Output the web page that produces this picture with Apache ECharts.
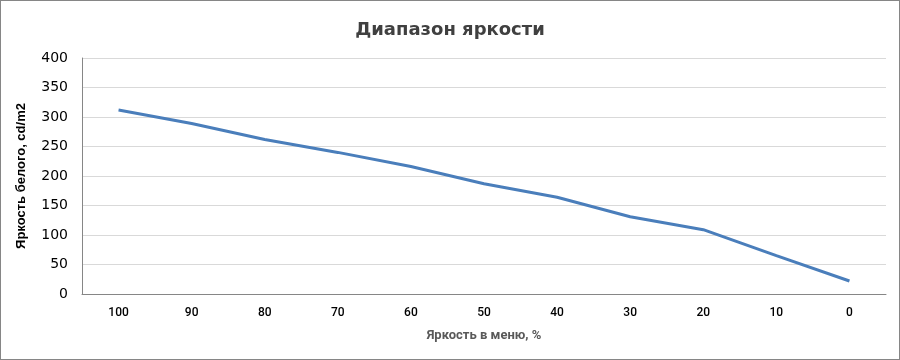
<!DOCTYPE html>
<html><head><meta charset="utf-8">
<script src="https://cdn.jsdelivr.net/npm/echarts@6/dist/echarts.min.js"></script>
<style>html,body{margin:0;padding:0;background:#fff}#c{width:898px;height:358px;border:1px solid #868686}</style>
</head><body><div id="c"></div>
<script>
const categories = ['100','90','80','70','60','50','40','30','20','10','0'];
const brightness = [312, 289, 262, 240, 216, 187, 164, 131, 109, 65, 22];
const yTicks = {min: 0, max: 400, interval: 50};

const chart = echarts.init(document.getElementById('c'), null, {renderer: 'canvas'});
chart.setOption({
  animation: false,
  title: {
    text: 'Диапазон яркости', left: 'center', top: 15,
    textStyle: {fontFamily: 'DejaVu Sans', fontSize: 18, fontWeight: 'bold', color: '#404040'}
  },
  grid: {left: 81, right: 13, top: 57, bottom: 65, containLabel: false},
  xAxis: {
    type: 'category', data: categories, boundaryGap: true,
    name: 'Яркость в меню, %', nameLocation: 'middle', nameGap: 35,
    nameTextStyle: {fontFamily: 'Roboto', fontSize: 13, fontWeight: 'bold', color: '#595959'},
    axisLine: {lineStyle: {color: '#868686', width: 1}},
    axisTick: {show: false},
    axisLabel: {fontFamily: 'Roboto', fontSize: 12, fontWeight: 500, color: '#000', margin: 13}
  },
  yAxis: {
    type: 'value', min: yTicks.min, max: yTicks.max, interval: yTicks.interval,
    name: 'Яркость белого, cd/m2', nameLocation: 'middle', nameGap: 54,
    nameTextStyle: {fontFamily: 'Liberation Sans', fontSize: 13, fontWeight: 'bold', color: '#000'},
    axisLine: {show: true, lineStyle: {color: '#868686', width: 1}},
    axisTick: {show: false},
    axisLabel: {fontFamily: 'DejaVu Sans', fontSize: 14, color: '#000', margin: 14},
    splitLine: {lineStyle: {color: '#d9d9d9', width: 1}}
  },
  series: [{
    type: 'line', data: brightness, showSymbol: false, symbol: 'none',
    lineStyle: {color: '#4a7ebb', width: 3}
  }]
});
</script></body></html>
